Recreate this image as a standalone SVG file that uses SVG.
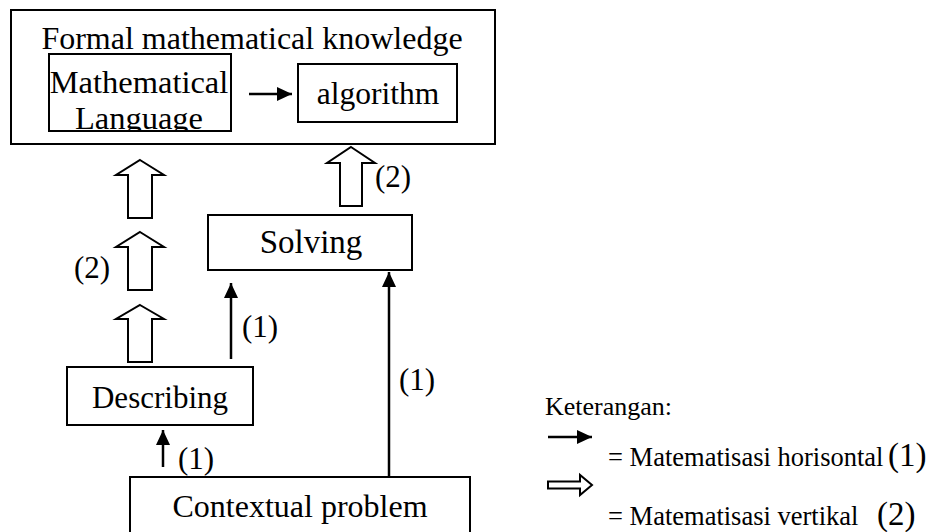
<svg xmlns="http://www.w3.org/2000/svg" width="936" height="532" viewBox="0 0 936 532">
  <style>
    .box { fill: #ffffff; stroke: #000000; stroke-width: 2; }
    .t { font-family: "Liberation Serif", "Times New Roman", serif; fill: #000000; }
    .c { text-anchor: middle; }
    .line { stroke: #000000; stroke-width: 2.5; fill: none; }
    .block { fill: #ffffff; stroke: #000000; stroke-width: 2; stroke-linejoin: miter; }
  </style>
  <defs>
    <marker id="head" viewBox="0 0 15 14" refX="15" refY="7" markerWidth="15" markerHeight="14" markerUnits="userSpaceOnUse" orient="auto">
      <path d="M0,0 L15,7 L0,14 Z" fill="#000000"/>
    </marker>
    <clipPath id="mlClip">
      <rect x="49" y="54" width="182" height="77"/>
    </clipPath>
  </defs>
  <rect width="936" height="532" fill="#ffffff"/>

  <g id="formal">
    <rect class="box" x="11" y="10" width="484" height="134"/>
    <text class="t c" x="252" y="49" font-size="32">Formal mathematical knowledge</text>
  </g>

  <g id="mathlang">
    <rect class="box" x="49" y="54" width="182" height="77"/>
    <g clip-path="url(#mlClip)">
      <text class="t c" x="139" y="93" font-size="32.5">Mathematical</text>
      <text class="t c" x="139" y="128.5" font-size="32.5">Language</text>
    </g>
  </g>

  <g id="algorithm">
    <rect class="box" x="298" y="64" width="159" height="58"/>
    <text class="t c" x="378" y="104" font-size="31.5">algorithm</text>
  </g>

  <g id="solving">
    <rect class="box" x="208" y="215" width="204" height="55"/>
    <text class="t c" x="311" y="253" font-size="33">Solving</text>
  </g>

  <g id="describing">
    <rect class="box" x="67" y="367" width="186" height="58"/>
    <text class="t c" x="160" y="408" font-size="31">Describing</text>
  </g>

  <g id="contextual">
    <rect class="box" x="130" y="477" width="340" height="70"/>
    <text class="t c" x="300" y="517" font-size="32">Contextual problem</text>
  </g>

  <g id="connectors">
    <line class="line" x1="249" y1="94" x2="292" y2="94" marker-end="url(#head)"/>
    <line class="line" x1="231" y1="359" x2="231" y2="283" marker-end="url(#head)"/>
    <line class="line" x1="389" y1="477" x2="389" y2="272" marker-end="url(#head)"/>
    <line class="line" x1="163" y1="467" x2="163" y2="430" marker-end="url(#head)"/>

    <path class="block" d="M140,160 L164,175 L152,175 L152,218 L128,218 L128,175 L116,175 Z"/>
    <path class="block" d="M140,232 L164,247 L152,247 L152,290 L128,290 L128,247 L116,247 Z"/>
    <path class="block" d="M140,305 L164,319 L152,319 L152,362 L128,362 L128,319 L116,319 Z"/>
    <path class="block" d="M351,147 L375,163 L362,163 L362,206 L340,206 L340,163 L327,163 Z"/>

    <text class="t" x="74" y="278" font-size="31">(2)</text>
    <text class="t" x="375" y="187" font-size="31">(2)</text>
    <text class="t" x="242" y="337" font-size="31">(1)</text>
    <text class="t" x="399" y="390" font-size="31">(1)</text>
    <text class="t" x="178" y="469" font-size="31">(1)</text>
  </g>

  <g id="legend">
    <text class="t" x="545" y="415" font-size="26">Keterangan:</text>
    <line class="line" x1="548" y1="437" x2="592" y2="437" marker-end="url(#head)"/>
    <text class="t" x="608" y="466" font-size="26.5">= Matematisasi horisontal</text>
    <text class="t" x="888" y="466" font-size="33">(1)</text>
    <path class="block" d="M548,481.5 L580,481.5 L580,475 L592,485 L580,495 L580,488.5 L548,488.5 Z"/>
    <text class="t" x="608" y="525" font-size="26.5">= Matematisasi vertikal</text>
    <text class="t" x="877" y="525" font-size="33">(2)</text>
  </g>
</svg>
